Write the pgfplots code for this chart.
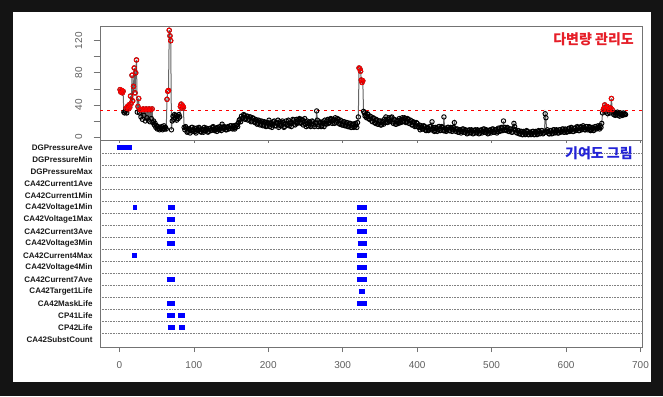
\documentclass[border=0pt]{standalone}
\usepackage{fontspec}
\setmainfont{Liberation Sans}
\newfontfamily\kr{Noto Sans CJK KR}
\usepackage{pgfplots}
\usepackage{pgfplotstable}
\pgfplotsset{compat=1.18}
\definecolor{bgdark}{RGB}{20,20,20}
\definecolor{tickgray}{RGB}{95,95,95}
\definecolor{boxgray}{RGB}{115,115,115}
\definecolor{rred}{RGB}{255,0,0}
\definecolor{rblue}{RGB}{0,0,255}
\definecolor{txtred}{RGB}{230,30,40}
\definecolor{txtblue}{RGB}{35,35,215}
\definecolor{lab}{RGB}{25,25,25}
\tikzset{cbar/.style={rblue, line width=4.6pt, line cap=butt, no markers, solid}}

\pgfplotstableread[row sep=\\]{
x y\\
1 59\\ 2 56\\ 3 58\\ 4 55\\ 5 57\\ 6 31\\ 7 30\\ 8 32\\ 9 36\\ 10 30\\
11 38\\ 12 35\\ 13 40\\ 14 37\\ 15 51\\ 16 42\\ 17 77\\ 18 45\\ 19 63\\ 20 86\\
21 55\\ 22 80\\ 23 96\\ 24 31\\ 25 38\\ 26 48\\ 27 30\\ 28 34\\
29 25\\ 30 34\\ 31 22\\ 32 35\\ 33 27\\ 34 34\\ 35 20\\ 36 35\\ 37 24\\ 38 34\\
39 21\\ 40 35\\ 41 19\\ 42 34\\ 43 23\\ 44 35\\ 45 18\\
46 20\\ 47 15\\ 48 17\\ 49 12\\ 50 14\\ 51 10\\ 52 13\\ 53 11\\ 54 9\\ 55 12\\
56 10\\ 57 13\\ 58 9\\ 59 11\\ 60 14\\ 61 10\\ 62 12\\ 63 10\\
64 47\\ 65 57\\ 66 58\\ 67 133\\ 68 126\\ 69 120\\ 70 9\\ 71 20\\ 72 26\\ 73 22\\
74 28\\ 75 24\\ 76 27\\ 77 21\\ 78 26\\ 79 23\\ 80 28\\ 81 25\\ 82 38\\ 83 41\\
84 36\\ 85 39\\ 86 37\\ 87 12\\
88 9\\ 89 13\\ 90 11\\ 91 6\\ 92 7\\ 93 10\\ 94 10\\ 95 5\\ 96 8\\ 97 12\\
98 12\\ 99 7\\ 100 9\\ 101 11\\ 102 7\\ 103 5\\ 104 11\\ 105 9\\ 106 8\\ 107 12\\
108 10\\ 109 7\\ 110 6\\ 111 10\\ 112 9\\ 113 6\\ 114 12\\ 115 8\\ 116 8\\ 117 11\\
118 10\\ 119 6\\ 120 7\\ 121 10\\ 122 11\\ 123 8\\ 124 9\\ 125 12\\ 126 13\\ 127 9\\
128 8\\ 129 11\\ 130 10\\ 131 7\\ 132 12\\ 133 10\\ 134 9\\ 135 13\\ 136 11\\ 137 8\\
138 16\\ 139 12\\ 140 10\\ 141 13\\ 142 12\\ 143 9\\ 144 9\\ 145 12\\ 146 13\\ 147 10\\
148 11\\ 149 14\\ 150 14\\ 151 11\\ 152 10\\ 153 14\\ 154 13\\ 155 10\\ 156 12\\ 157 15\\
158 15\\ 159 13\\
160 18\\ 161 21\\ 162 22\\ 163 19\\ 164 26\\ 165 23\\ 166 24\\ 167 28\\ 168 27\\ 169 22\\
170 23\\ 171 26\\ 172 26\\ 173 21\\ 174 22\\ 175 25\\ 176 25\\ 177 19\\ 178 20\\ 179 24\\
180 23\\ 181 19\\ 182 18\\ 183 22\\ 184 21\\ 185 16\\ 186 17\\ 187 21\\ 188 20\\ 189 15\\
190 16\\ 191 20\\ 192 19\\ 193 14\\ 194 15\\ 195 19\\ 196 18\\ 197 13\\ 198 14\\ 199 18\\
200 17\\ 201 21\\ 202 13\\ 203 16\\ 204 18\\ 205 12\\ 206 15\\ 207 19\\ 208 20\\ 209 14\\
210 14\\ 211 18\\ 212 17\\ 213 21\\ 214 12\\ 215 15\\ 216 19\\ 217 14\\ 218 15\\ 219 20\\
220 18\\ 221 12\\ 222 13\\ 223 17\\ 224 20\\ 225 15\\ 226 16\\ 227 21\\ 228 14\\ 229 17\\
230 19\\ 231 13\\ 232 17\\ 233 22\\ 234 21\\ 235 16\\ 236 15\\ 237 19\\ 238 22\\ 239 17\\
240 18\\ 241 22\\ 242 23\\ 243 18\\ 244 17\\ 245 22\\ 246 21\\ 247 15\\ 248 19\\ 249 23\\
250 16\\ 251 13\\ 252 20\\ 253 17\\ 254 14\\ 255 19\\ 256 18\\ 257 13\\ 258 15\\ 259 20\\
260 19\\ 261 15\\ 262 13\\ 263 18\\ 264 17\\ 265 32.5\\ 266 21\\ 267 13\\ 268 15\\ 269 19\\
270 18\\ 271 13\\ 272 14\\ 273 19\\ 274 17\\ 275 13\\ 276 21\\ 277 17\\ 278 16\\ 279 20\\
280 22\\ 281 17\\ 282 18\\ 283 22\\ 284 23\\ 285 19\\ 286 17\\ 287 22\\ 288 21\\ 289 17\\
290 24\\ 291 20\\ 292 18\\ 293 23\\ 294 22\\ 295 17\\ 296 16\\ 297 21\\ 298 20\\ 299 15\\
300 15\\ 301 19\\ 302 19\\ 303 14\\ 304 14\\ 305 18\\ 306 18\\ 307 13\\ 308 13\\ 309 17\\
310 17\\ 311 12\\ 312 12\\ 313 16\\ 314 16\\ 315 12\\ 316 13\\ 317 17\\ 318 15\\ 319 12\\
320 18\\ 321 25\\ 322 86\\ 323 85\\ 324 82\\ 325 71\\ 326 68\\ 327 70\\ 328 32\\
329 30\\ 330 26\\ 331 27\\ 332 24\\ 333 29\\ 334 28\\ 335 23\\ 336 22\\ 337 26\\ 338 25\\ 339 20\\
340 19\\ 341 24\\ 342 23\\ 343 18\\ 344 17\\ 345 22\\ 346 21\\ 347 16\\ 348 16\\ 349 20\\
350 20\\ 351 15\\ 352 15\\ 353 20\\ 354 19\\ 355 16\\ 356 22\\ 357 18\\ 358 25\\ 359 20\\
360 18\\ 361 22\\ 362 24\\ 363 19\\ 364 20\\ 365 24\\ 366 25\\ 367 19\\ 368 17\\ 369 22\\
370 21\\ 371 16\\ 372 16\\ 373 21\\ 374 20\\ 375 17\\ 376 23\\ 377 19\\ 378 18\\ 379 22\\
380 24\\ 381 19\\ 382 20\\ 383 24\\ 384 23\\ 385 18\\ 386 19\\ 387 23\\ 388 22\\ 389 17\\
390 17\\ 391 21\\ 392 20\\ 393 15\\ 394 15\\ 395 19\\ 396 18\\ 397 13\\ 398 14\\ 399 18\\
400 17\\ 401 13\\ 402 12\\ 403 15\\ 404 9\\ 405 12\\ 406 14\\ 407 10\\ 408 10\\ 409 14\\
410 13\\ 411 9\\ 412 8\\ 413 12\\ 414 12\\ 415 8\\ 416 9\\ 417 13\\ 418 13\\ 419 9\\
420 19\\ 421 10\\ 422 12\\ 423 7\\ 424 8\\ 425 12\\ 426 11\\ 427 7\\ 428 9\\ 429 13\\
430 13\\ 431 8\\ 432 10\\ 433 13\\ 434 12\\ 435 8\\ 436 25\\ 437 8\\ 438 11\\ 439 7\\
440 9\\ 441 12\\ 442 12\\ 443 8\\ 444 8\\ 445 12\\ 446 11\\ 447 7\\ 448 9\\ 449 12\\
450 18\\ 451 10\\ 452 7\\ 453 10\\ 454 10\\ 455 6\\ 456 6\\ 457 9\\ 458 9\\ 459 5\\
460 7\\ 461 10\\ 462 10\\ 463 6\\ 464 6\\ 465 9\\ 466 8\\ 467 4\\ 468 5\\ 469 8\\
470 9\\ 471 5\\ 472 6\\ 473 9\\ 474 8\\ 475 4\\ 476 5\\ 477 8\\ 478 9\\ 479 5\\
480 6\\ 481 9\\ 482 8\\ 483 4\\ 484 5\\ 485 8\\ 486 9\\ 487 5\\ 488 7\\ 489 10\\
490 10\\ 491 6\\ 492 6\\ 493 9\\ 494 8\\ 495 4\\ 496 5\\ 497 8\\ 498 9\\ 499 5\\
500 7\\ 501 10\\ 502 10\\ 503 6\\ 504 6\\ 505 9\\ 506 9\\ 507 5\\ 508 7\\ 509 11\\
510 10\\ 511 7\\ 512 8\\ 513 12\\ 514 11\\ 515 8\\ 516 20\\ 517 9\\ 518 12\\ 519 9\\
520 8\\ 521 12\\ 522 11\\ 523 7\\ 524 7\\ 525 10\\ 526 10\\ 527 6\\ 528 6\\ 529 10\\
530 17\\ 531 13\\ 532 9\\ 533 6\\ 534 5\\ 535 8\\ 536 8\\ 537 4\\ 538 4\\ 539 7\\
540 7\\ 541 3\\ 542 3\\ 543 7\\ 544 6\\ 545 3\\ 546 4\\ 547 8\\ 548 7\\ 549 3\\
550 3\\ 551 6\\ 552 6\\ 553 3\\ 554 4\\ 555 7\\ 556 7\\ 557 3\\ 558 3\\ 559 7\\
560 6\\ 561 3\\ 562 4\\ 563 8\\ 564 7\\ 565 4\\ 566 5\\ 567 8\\ 568 8\\ 569 4\\
570 5\\ 571 6\\ 572 29\\ 573 24\\ 574 6\\ 575 9\\ 576 7\\ 577 4\\ 578 4\\ 579 8\\
580 8\\ 581 4\\ 582 5\\ 583 9\\ 584 9\\ 585 5\\ 586 6\\ 587 9\\ 588 8\\ 589 5\\
590 5\\ 591 9\\ 592 9\\ 593 6\\ 594 7\\ 595 10\\ 596 10\\ 597 6\\ 598 6\\ 599 10\\
600 9\\ 601 6\\ 602 7\\ 603 10\\ 604 11\\ 605 7\\ 606 8\\ 607 12\\ 608 10\\ 609 7\\
610 7\\ 611 11\\ 612 11\\ 613 8\\ 614 9\\ 615 13\\ 616 12\\ 617 8\\ 618 8\\ 619 12\\
620 13\\ 621 9\\ 622 10\\ 623 14\\ 624 12\\ 625 9\\ 626 9\\ 627 13\\ 628 13\\ 629 9\\
630 10\\ 631 13\\ 632 12\\ 633 8\\ 634 9\\ 635 12\\ 636 11\\ 637 8\\ 638 10\\ 639 13\\
640 13\\ 641 10\\ 642 11\\ 643 14\\ 644 12\\ 645 10\\ 646 14\\ 647 12\\ 648 17\\
649 30\\ 650 34\\ 651 36\\ 652 40\\ 653 31\\ 654 35\\ 655 38\\ 656 29\\ 657 37\\ 658 34\\
659 30\\ 660 36\\ 661 48\\ 662 34\\ 663 30\\ 664 28\\ 665 31\\ 666 27\\ 667 30\\ 668 28\\
669 31\\ 670 27\\ 671 29\\ 672 26\\ 673 30\\ 674 28\\ 675 29\\ 676 27\\ 677 30\\ 678 28\\
679 29\\ 680 28\\
}\series

\begin{document}
\begin{tikzpicture}[x=1pt,y=1pt]
\fill[bgdark] (0,0) rectangle (663,396);
\fill[white] (13,14) rectangle (651,384);

% ---------- upper panel: multivariate control chart ----------
\begin{axis}[
  at={(100pt,256pt)}, anchor=south west, scale only axis,
  width=542.7pt, height=114pt,
  xmin=-26, xmax=703, ymin=-3.7, ymax=138.3,
  axis line style={boxgray, line width=0.8pt},
  tick pos=left, tick align=outside,
  major tick length=6.5pt,
  xtick={0,100,...,700}, xticklabels={},
  xtick style={/pgfplots/major tick length=3pt},
  ytick={0,20,...,120}, yticklabels={0,,40,,80,,120},
  every tick/.style={boxgray, line width=0.6pt},
  /pgf/number format/assume math mode=true,
  yticklabel style={rotate=90, anchor=south, inner sep=1pt, yshift=10pt,
     font=\fontsize{10}{12}\selectfont, text=tickgray},
  clip=true,
]
\addplot[color=black!60, line width=1pt, mark=o, mark size=2.2pt,
  mark options={black, line width=0.95pt, solid}] table[x=x,y=y]{\series};
\addplot[only marks, mark=o, mark size=2.2pt,
  mark options={rred, line width=0.95pt},
  restrict y to domain=33:200] table[x=x,y=y]{\series};
\addplot[rred, line width=1.6pt, dash pattern=on 3.3pt off 3.7pt]
  coordinates {(-26,33) (703,33)};
\node[anchor=east, inner sep=0pt, text=txtred,
  font=\kr\bfseries\fontsize{14}{14}\selectfont]
  at (axis description cs:0.984,0.886) {다변량 관리도};
\end{axis}

% ---------- lower panel: contribution plot ----------
\begin{axis}[
  at={(100pt,49pt)}, anchor=south west, scale only axis,
  width=542.7pt, height=207pt,
  xmin=-26, xmax=703, ymin=0.39, ymax=17.64, y dir=reverse,
  axis line style={boxgray, line width=0.8pt},
  tick pos=left, tick align=outside,
  major tick length=5pt,
  every tick/.style={boxgray, line width=0.6pt},
  xtick={0,100,...,700},
  ytick={1,...,17},
  ytick style={draw=none},
  yticklabels={DGPressureAve,DGPressureMin,DGPressureMax,CA42Current1Ave,CA42Current1Min,CA42Voltage1Min,CA42Voltage1Max,CA42Current3Ave,CA42Voltage3Min,CA42Current4Max,CA42Voltage4Min,CA42Current7Ave,CA42Target1Life,CA42MaskLife,CP41Life,CP42Life,CA42SubstCount},
  yticklabel style={font=\bfseries\fontsize{8}{9}\selectfont, text=lab, xshift=1pt},
  /pgf/number format/assume math mode=true,
  xticklabel style={font=\fontsize{10}{12}\selectfont, text=tickgray, yshift=-6pt},
  extra y ticks={1.5,2.5,...,16.5},
  extra y tick labels={},
  extra y tick style={grid=major, major tick length=0pt},
  major grid style={gray, line width=0.6pt, dash pattern=on 0.8pt off 0.8pt},
]
\addplot[cbar] coordinates {(-3,1) (17,1)};
\addplot[cbar] coordinates {(18.5,6) (23.5,6)};
\addplot[cbar] coordinates {(65,6) (74.5,6)};
\addplot[cbar] coordinates {(319,6) (332.5,6)};
\addplot[cbar] coordinates {(63.6,7) (74.4,7)};
\addplot[cbar] coordinates {(319,7) (332.5,7)};
\addplot[cbar] coordinates {(63.6,8) (74.7,8)};
\addplot[cbar] coordinates {(319,8) (332.5,8)};
\addplot[cbar] coordinates {(63.6,9) (74.4,9)};
\addplot[cbar] coordinates {(320,9) (332.5,9)};
\addplot[cbar] coordinates {(17.5,10) (23.8,10)};
\addplot[cbar] coordinates {(319,10) (332.5,10)};
\addplot[cbar] coordinates {(319,11) (332.5,11)};
\addplot[cbar] coordinates {(63.6,12) (74.4,12)};
\addplot[cbar] coordinates {(319,12) (332.5,12)};
\addplot[cbar] coordinates {(321.7,13) (330,13)};
\addplot[cbar] coordinates {(64,14) (74.4,14)};
\addplot[cbar] coordinates {(319,14) (332.5,14)};
\addplot[cbar] coordinates {(64,15) (74.4,15)};
\addplot[cbar] coordinates {(79,15) (88,15)};
\addplot[cbar] coordinates {(65,16) (74.4,16)};
\addplot[cbar] coordinates {(80,16) (88.6,16)};
\node[anchor=east, inner sep=0pt, text=txtblue,
  font=\kr\bfseries\fontsize{14}{14}\selectfont]
  at (axis description cs:0.982,0.936) {기여도 그림};
\end{axis}
\end{tikzpicture}
\end{document}
